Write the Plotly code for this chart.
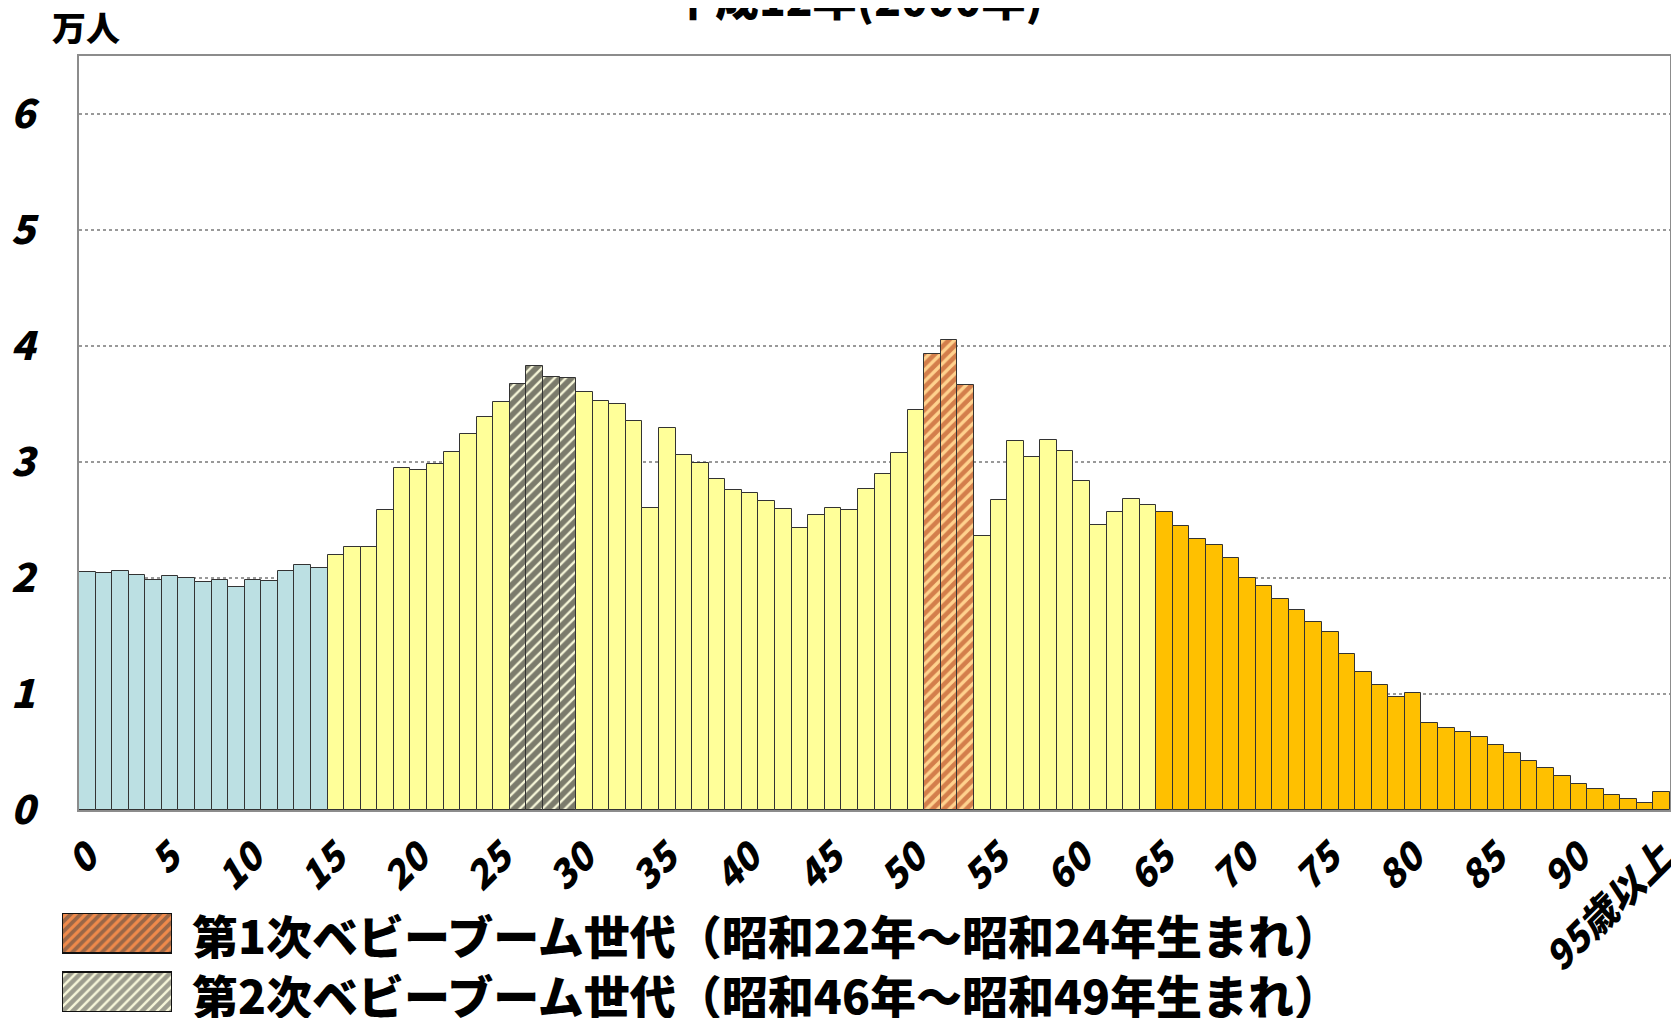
import plotly.graph_objects as go

# ---- data (万人) ----
ages = list(range(96))
age_tick_vals = [0, 5, 10, 15, 20, 25, 30, 35, 40, 45, 50, 55, 60, 65, 70, 75, 80, 85, 90, 95]
age_tick_text = ["0", "5", "10", "15", "20", "25", "30", "35", "40", "45", "50", "55",
                 "60", "65", "70", "75", "80", "85", "90", "95歳以上"]
population = [
    2.053, 2.044, 2.062, 2.027, 1.987, 2.016, 2.004, 1.964, 1.984, 1.923, 1.984, 1.975, 2.062, 2.113, 2.088,
    2.200, 2.269, 2.269, 2.583, 2.951, 2.934, 2.986, 3.090, 3.239, 3.392, 3.513, 3.674, 3.827, 3.732, 3.720,
    3.602, 3.527, 3.496, 3.357, 2.606, 3.297, 3.058, 2.995, 2.856, 2.761, 2.730, 2.660, 2.597, 2.427, 2.545,
    2.606, 2.583, 2.770, 2.899, 3.081, 3.447, 3.930, 4.051, 3.660, 2.358, 2.675, 3.179, 3.041, 3.187, 3.098,
    2.833, 2.459, 2.571, 2.684, 2.632,
    2.571, 2.445, 2.335, 2.286, 2.174, 1.998, 1.929, 1.820, 1.722, 1.621, 1.535, 1.345, 1.189, 1.077, 0.973,
    1.005, 0.752, 0.703, 0.671, 0.628, 0.561, 0.495, 0.420, 0.360, 0.291, 0.227, 0.179, 0.130, 0.098, 0.063, 0.155,
]
boom1_ages = [51, 52, 53]
boom2_ages = [26, 27, 28, 29]
legend_labels = ["第1次ベビーブーム世代（昭和22年～昭和24年生まれ）",
                 "第2次ベビーブーム世代（昭和46年～昭和49年生まれ）"]
title_text = "平成12年(2000年)"
unit_text = "万人"

FONT = "Noto Sans CJK JP"
OFF = 8                      # page body margin
W, H = 1679 - OFF, 1018 - OFF
PL, PR, PT, PB = 79, 1670, 56, 810  # plot area in screen px


def px_x(p):
    return (p - OFF) / W


def px_y(p):
    return 1 - (p - OFF) / H


def pick(cond):
    xs = [a for a in ages if cond(a)]
    return xs, [population[a] for a in xs]


fig = go.Figure()

groups = [
    (lambda a: a < 15, "#BCE0E3", None),
    (lambda a: 15 <= a < 65 and a not in boom1_ages and a not in boom2_ages, "#FFFF99", None),
    (lambda a: a >= 65, "#FFC000", None),
    (lambda a: a in boom2_ages, "#F6F6D8", dict(shape="/", fgcolor="#000000", bgcolor="#F6F6D8", size=8, solidity=0.7)),
    (lambda a: a in boom1_ages, "#FFD28E", dict(shape="/", fgcolor="#A82A08", bgcolor="#FFD28E", size=8, solidity=0.58)),
]
for cond, col, pat in groups:
    xs, ys = pick(cond)
    marker = dict(color=col, line=dict(color="#333333", width=1))
    if pat:
        marker["pattern"] = pat
    fig.add_trace(go.Bar(x=xs, y=ys, width=1, marker=marker, showlegend=False,
                         hoverinfo="x+y", xaxis="x", yaxis="y"))

# legend swatches on a hidden axis pair
sw_y = [0, 1]
fig.add_trace(go.Bar(
    x=[1, 1], y=sw_y, orientation="h", width=0.684, xaxis="x2", yaxis="y2", showlegend=False,
    hoverinfo="skip",
    marker=dict(
        color=["#F08A4B", "#F6F6D8"],
        line=dict(color="#111111", width=2),
        pattern=dict(shape="/", fgcolor=["#E0602A", "#000000"], bgcolor=["#F8A878", "#F6F6D8"],
                     size=7, solidity=[0.55, 0.65]),
    ),
))

fig.update_layout(
    width=W, height=H,
    margin=dict(l=0, r=0, t=0, b=0, pad=0, autoexpand=False),
    paper_bgcolor="white", plot_bgcolor="white",
    barmode="overlay", bargap=0, showlegend=False,
    font=dict(family=FONT, color="black"),
    xaxis=dict(
        domain=[px_x(PL), px_x(PR)], range=[-0.5, 95.5], automargin=False,
        tickmode="array", tickvals=age_tick_vals, ticktext=age_tick_text,
        tickangle=-45, tickfont=dict(family=FONT, size=38, weight=900, style="italic"),
        ticklabeloverflow="allow",
        showline=True, linecolor="#8C8C8C", linewidth=2, mirror=True,
        showgrid=False, zeroline=False, ticks="", ticklabelstandoff=8,
    ),
    yaxis=dict(
        domain=[px_y(PB), px_y(PT)], range=[0, 6.5], automargin=False,
        tickmode="array", tickvals=[0, 1, 2, 3, 4, 5, 6],
        tickfont=dict(family=FONT, size=40, weight=900, style="italic"),
        showline=True, linecolor="#8C8C8C", linewidth=2, mirror=True,
        showgrid=True, gridcolor="#999999", griddash="dot", gridwidth=1.5,
        zeroline=False, ticks="", ticklabelstandoff=34,
    ),
    xaxis2=dict(domain=[px_x(62), px_x(172)], range=[0, 1], visible=False, anchor="y2", automargin=False),
    yaxis2=dict(domain=[px_y(1012), px_y(913)], range=[1.350, -0.342], visible=False, anchor="x2", automargin=False),
)

annotations = [
    dict(text=title_text, x=px_x(857), y=px_y(-3), xref="paper", yref="paper",
         xanchor="center", yanchor="middle", showarrow=False,
         font=dict(family=FONT, size=44, weight=900)),
    dict(text=unit_text, x=px_x(86), y=px_y(26), xref="paper", yref="paper",
         xanchor="center", yanchor="middle", showarrow=False,
         font=dict(family=FONT, size=34, weight=900)),
    dict(text="<br>".join(legend_labels), x=px_x(190), y=px_y(964), xref="paper", yref="paper",
         xanchor="left", yanchor="middle", align="left", showarrow=False,
         font=dict(family=FONT, size=46, weight=900)),
]
fig.update_layout(annotations=annotations)

fig.write_html("out.html")
